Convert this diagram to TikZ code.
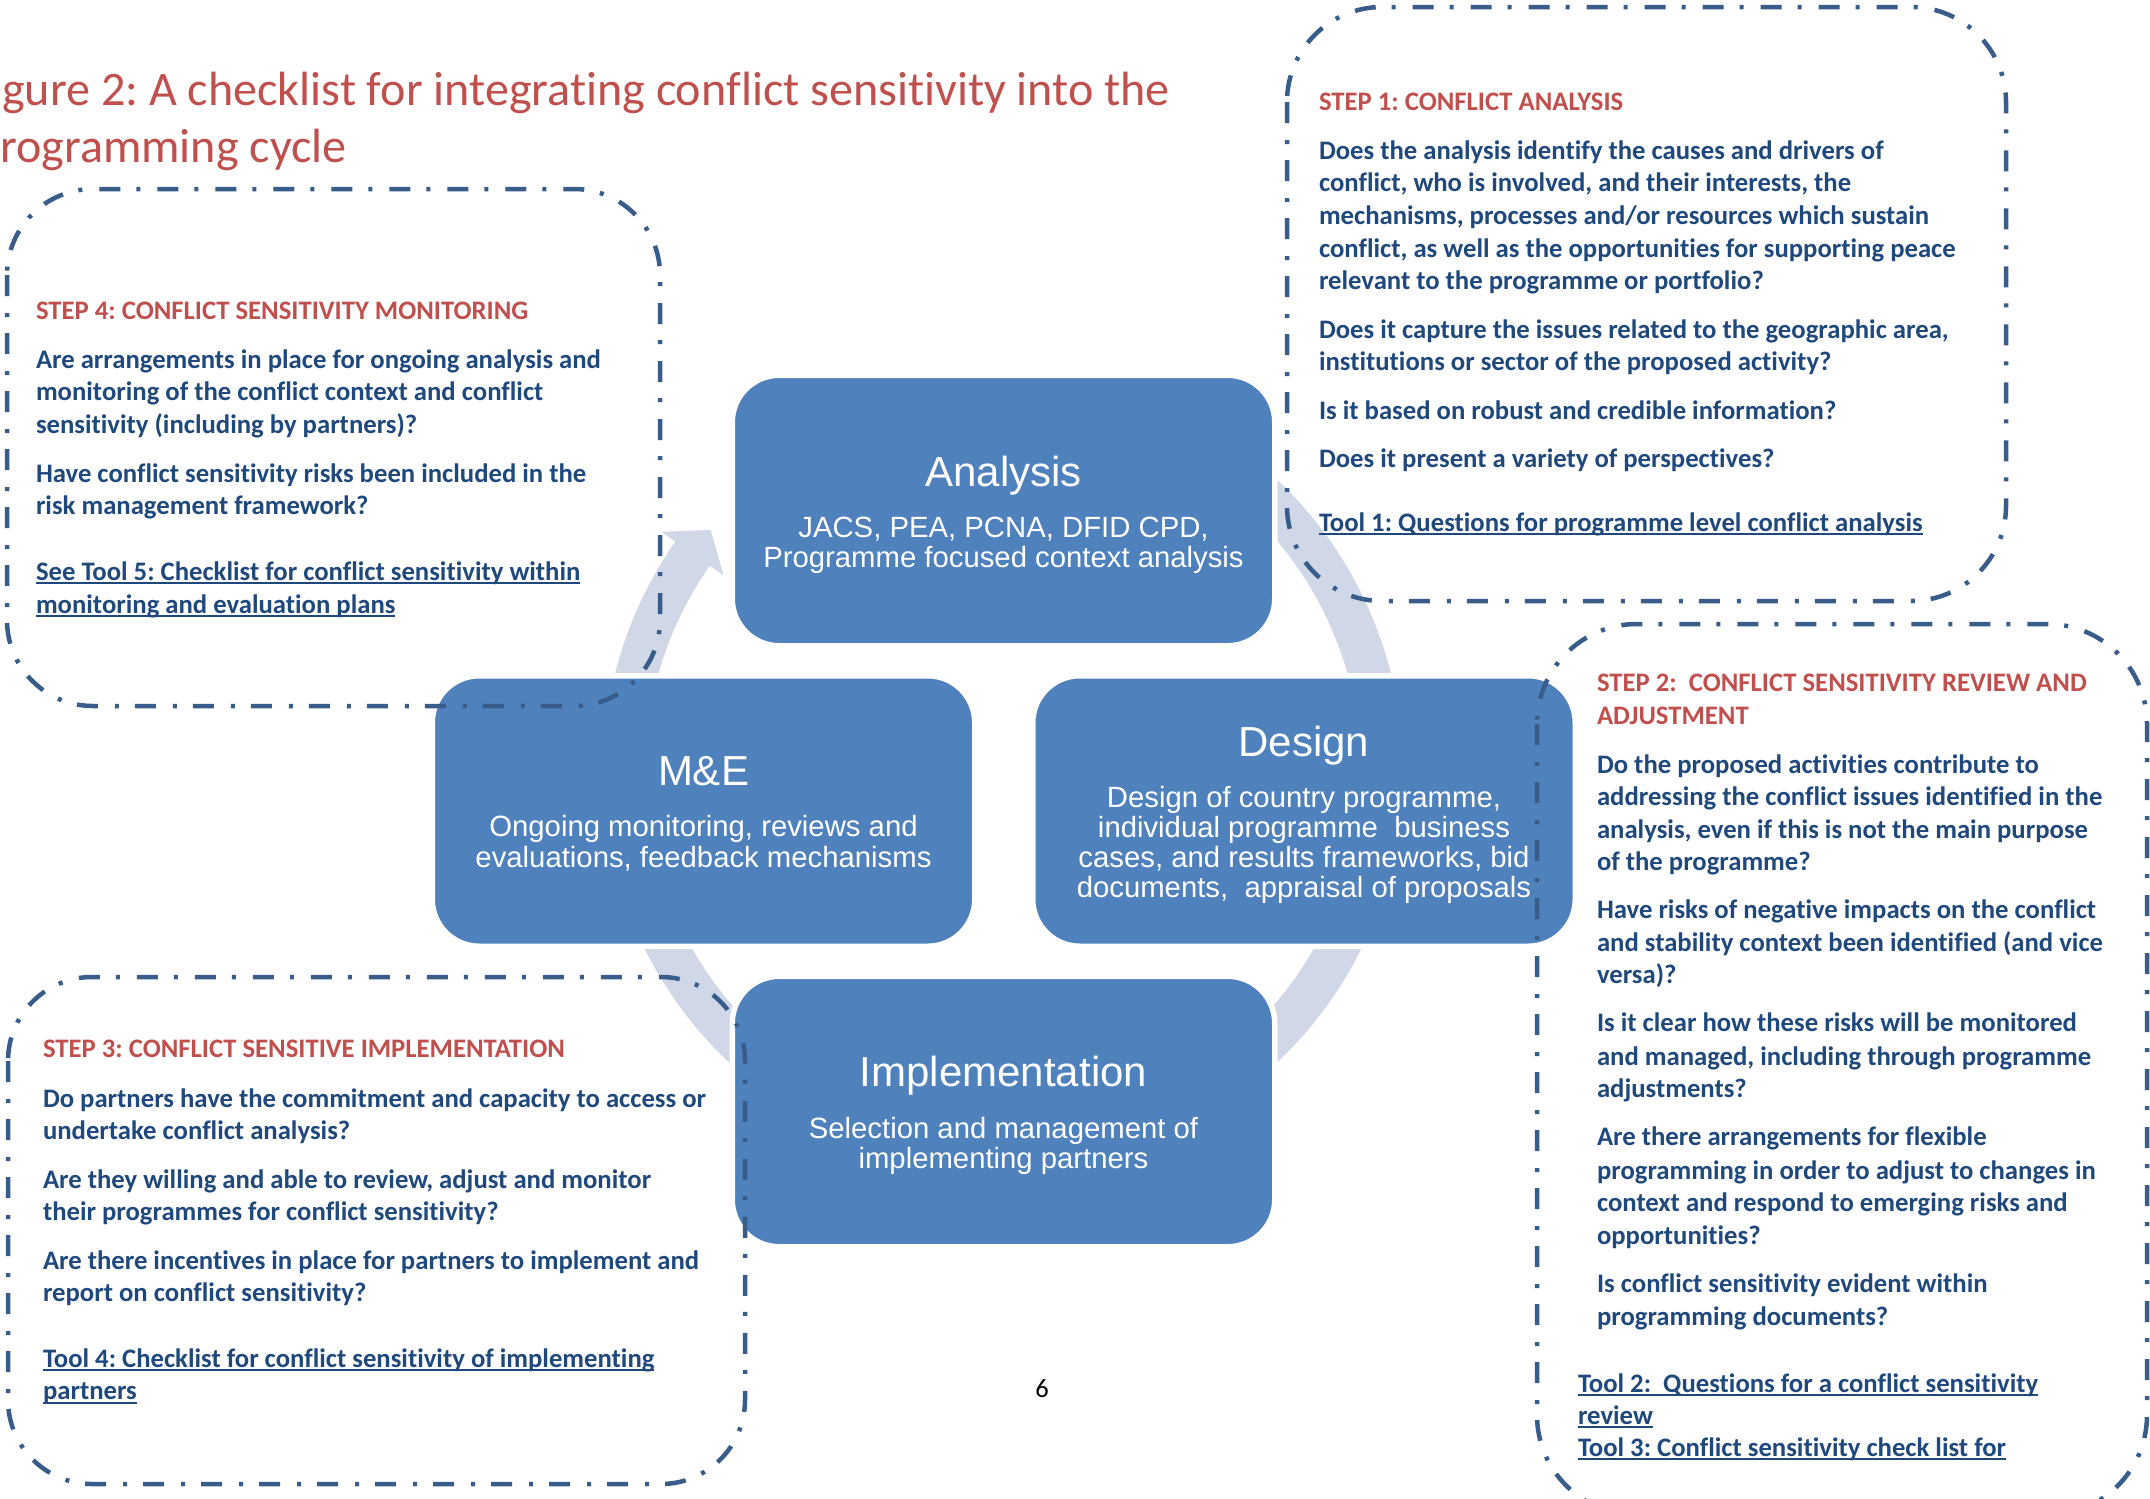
\documentclass[tikz,border=0pt]{standalone}
\usepackage{fontspec}
\setmainfont{Carlito}[Ligatures=NoCommon]
\newfontfamily\arialfont{Liberation Sans}
\usetikzlibrary{calc}
\definecolor{hred}{HTML}{C0504D}
\definecolor{dblue}{HTML}{1F497D}
\definecolor{boxblue}{HTML}{4F81BD}
\definecolor{arcc}{HTML}{D0D8E8}
\definecolor{dashc}{HTML}{385D8A}
\newsavebox\ulbox
\newcommand\ulink[1]{\sbox\ulbox{#1}\rlap{\rule[-3.6pt]{\wd\ulbox}{2pt}}\usebox\ulbox}
\newcommand\cyclearrow[3]{%
  \fill[arcfill] ($(C)+(#1:400)$) arc[start angle=#1, end angle=#2, radius=400]
    -- ($(C)+(#2:417)$) -- ($(C)+(#3:379)$) -- ($(C)+(#2:341)$)
    -- ($(C)+(#2:358)$) arc[start angle=#2, end angle=#1, radius=358] -- cycle;}
\frenchspacing
\tikzset{
  body/.style={font=\fontsize{26.7}{32}\selectfont\bfseries, text=dblue, anchor=base west, inner sep=0pt, outer sep=0pt},
  head/.style={body, text=hred},
  titletext/.style={font=\fontsize{48.1}{58}\selectfont, text=hred, anchor=base west, inner sep=0pt},
  cbox/.style={rectangle, minimum width=542.5pt, minimum height=270.5pt, rounded corners=47pt, fill=boxblue, draw=white, line width=5.5pt, inner sep=0pt},
  boxtitle/.style={font=\arialfont\fontsize{42}{44}\selectfont, text=white, anchor=base, inner sep=0pt},
  boxbody/.style={font=\arialfont\fontsize{29.3}{30}\selectfont, text=white, anchor=base, inner sep=0pt},
  arcfill/.style={fill=arcc},
  dashbox/.style={draw=dashc, line width=4.5pt, dash pattern=on 21pt off 17pt on 4pt off 16pt},
}
\begin{document}
\begin{tikzpicture}[x=1pt,y=-1pt]
\useasboundingbox (0,0) rectangle (2150,1499);
\clip (0,0) rectangle (2150,1499);
\fill[white] (0,0) rectangle (2150,1499);

% title
\node[titletext] (title1) at (2,105) {gure 2: A checklist for integrating conflict sensitivity into the};
\node[titletext] (title2) at (0,162) {rogramming cycle};

% cycle arrows
\coordinate (C) at (1003,771);
\cyclearrow{-172}{-145}{-140.5}
\cyclearrow{-60}{-11}{-6.5}
\cyclearrow{10}{52}{56.5}
\cyclearrow{128}{165}{169.5}

% central boxes
\node[cbox] (ana) at (1003.5,510.5) {};
\node[cbox] (mne) at (703.5,811) {};
\node[cbox] (des) at (1304,811) {};
\node[cbox] (imp) at (1003.5,1111.5) {};

\node[boxtitle] (anat) at (1003.5,486) {Analysis};
\node[boxbody] (anab1) at (1003.5,537) {JACS, PEA, PCNA, DFID CPD,};
\node[boxbody] (anab2) at (1003.5,567) {Programme focused context analysis};

\node[boxtitle] (mnet) at (703.5,785) {M\&E};
\node[boxbody] (mneb1) at (703.5,836.5) {Ongoing monitoring, reviews and};
\node[boxbody] (mneb2) at (703.5,867) {evaluations, feedback mechanisms};

\node[boxtitle] (dest) at (1304,756) {Design};
\node[boxbody] (desb1) at (1304,807) {Design of country programme,};
\node[boxbody] (desb2) at (1304,837) {individual programme\ \ business};
\node[boxbody] (desb3) at (1304,867) {cases, and results frameworks, bid};
\node[boxbody] (desb4) at (1304,897) {documents,\ \ appraisal of proposals};

\node[boxtitle] (impt) at (1003.5,1086) {Implementation};
\node[boxbody] (impb1) at (1003.5,1138) {Selection and management of};
\node[boxbody] (impb2) at (1003.5,1168) {implementing partners};

% Step 1
\node[head] (s1h) at (1319,110.7) {STEP 1: CONFLICT ANALYSIS};
\foreach \yy/\tt [count=\i] in {
  159.4/{Does the analysis identify the causes and drivers of},
  191.8/{conflict, who is involved, and their interests, the},
  224.6/{mechanisms, processes and/or resources which sustain},
  257/{conflict, as well as the opportunities for supporting peace},
  289.4/{relevant to the programme or portfolio?},
  338.9/{Does it capture the issues related to the geographic area,},
  370.9/{institutions or sector of the proposed activity?},
  419.1/{Is it based on robust and credible information?},
  467.8/{Does it present a variety of perspectives?},
  531.8/{\ulink{Tool 1: Questions for programme level conflict analysis}}}
  \node[body] (s1l\i) at (1319,\yy) {\tt};

% Step 4
\node[head] (s4h) at (36,319) {STEP 4: CONFLICT SENSITIVITY MONITORING};
\foreach \yy/\tt [count=\i] in {
  368.7/{Are arrangements in place for ongoing analysis and},
  400.8/{monitoring of the conflict context and conflict},
  433/{sensitivity (including by partners)?},
  482/{Have conflict sensitivity risks been included in the},
  514/{risk management framework?},
  580.8/{\ulink{See Tool 5: Checklist for conflict sensitivity within}},
  613/{\ulink{monitoring and evaluation plans}}}
  \node[body] (s4l\i) at (36,\yy) {\tt};

% Step 3
\node[head] (s3h) at (43,1057.6) {STEP 3: CONFLICT SENSITIVE IMPLEMENTATION};
\foreach \yy/\tt [count=\i] in {
  1107.6/{Do partners have the commitment and capacity to access or},
  1139.6/{undertake conflict analysis?},
  1188.5/{Are they willing and able to review, adjust and monitor},
  1220.6/{their programmes for conflict sensitivity?},
  1269.8/{Are there incentives in place for partners to implement and},
  1301.9/{report on conflict sensitivity?},
  1367.8/{\ulink{Tool 4: Checklist for conflict sensitivity of implementing}},
  1399.9/{\ulink{partners}}}
  \node[body] (s3l\i) at (43,\yy) {\tt};

% Step 2
\node[head] (s2h1) at (1597,691.7) {STEP 2:\ \ CONFLICT SENSITIVITY REVIEW AND};
\node[head] (s2h2) at (1597,724.4) {ADJUSTMENT};
\foreach \yy/\tt [count=\i] in {
  773/{Do the proposed activities contribute to},
  805.3/{addressing the conflict issues identified in the},
  838/{analysis, even if this is not the main purpose},
  870/{of the programme?},
  918.8/{Have risks of negative impacts on the conflict},
  951/{and stability context been identified (and vice},
  983.6/{versa)?},
  1031.8/{Is it clear how these risks will be monitored},
  1065/{and managed, including through programme},
  1097.7/{adjustments?},
  1145.9/{Are there arrangements for flexible},
  1179/{programming in order to adjust to changes in},
  1211/{context and respond to emerging risks and},
  1244.5/{opportunities?},
  1292/{Is conflict sensitivity evident within},
  1325.3/{programming documents?}}
  \node[body] (s2l\i) at (1597,\yy) {\tt};
\node[body] (s2t1) at (1578,1392) {\ulink{Tool 2:\ \ Questions for a conflict sensitivity}};
\node[body] (s2t2) at (1578,1424.5) {\ulink{review}};
\node[body] (s2t3) at (1578,1456) {\ulink{Tool 3: Conflict sensitivity check list for}};

% page number
\node[font=\fontsize{26.5}{32}\selectfont, anchor=base, inner sep=0pt] (pnum) at (1042,1397) {6};

% dashed step boxes
\draw[dashbox, rounded corners=95pt] (1287,7) rectangle (2006,601);
\draw[dashbox, rounded corners=86pt] (7,189) rectangle (660,706);
\draw[dashbox, rounded corners=84pt] (8,977) rectangle (745,1484);
\draw[dashbox, rounded corners=100pt] (1537,624) rectangle (2147,1515);
\end{tikzpicture}
\end{document}
